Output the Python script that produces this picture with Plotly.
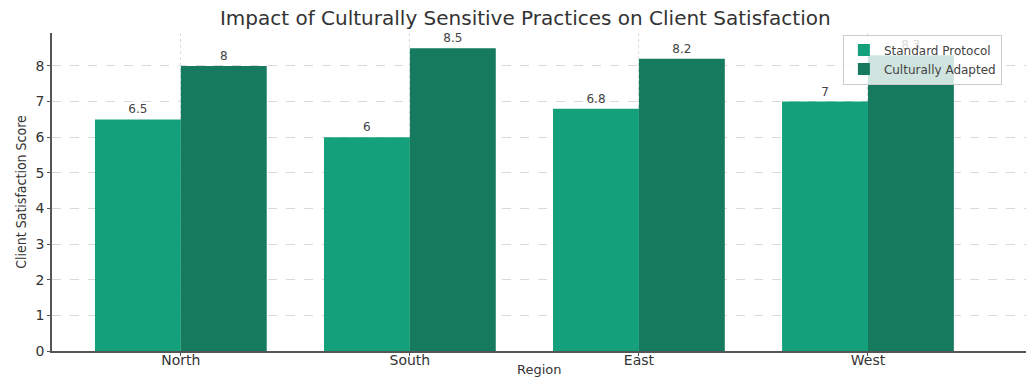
import plotly.graph_objects as go

regions = ["North", "South", "East", "West"]
standard = [6.5, 6.0, 6.8, 7.0]
adapted = [8.0, 8.5, 8.2, 8.3]
standard_labels = ["6.5", "6", "6.8", "7"]
adapted_labels = ["8", "8.5", "8.2", "8.3"]

light = "#13a07b"
dark = "#167a5f"
font = "DejaVu Sans"

fig = go.Figure()
fig.add_trace(go.Bar(x=regions, y=standard, name="Standard Protocol", marker=dict(color=light, line=dict(width=0)),
                     text=standard_labels, textposition="outside", textfont=dict(size=12, color="#444", family=font),
                     cliponaxis=False))
fig.add_trace(go.Bar(x=regions, y=adapted, name="Culturally Adapted", marker=dict(color=dark, line=dict(width=0)),
                     text=adapted_labels, textposition="outside", textfont=dict(size=12, color="#444", family=font),
                     cliponaxis=False))

fig.update_layout(
    width=1026, height=377,
    margin=dict(l=52, r=0, t=33, b=26, autoexpand=False),
    paper_bgcolor="white", plot_bgcolor="white",
    barmode="group", bargap=0.25, bargroupgap=0,
    title=dict(text="Impact of Culturally Sensitive Practices on Client Satisfaction",
               x=0.512, xanchor="center", y=0.952, yanchor="middle",
               font=dict(family=font, size=20, color="#333")),
    font=dict(family=font, color="#333"),
    legend=dict(x=0.812, y=0.995, xanchor="left", yanchor="top",
                bgcolor="rgba(255,255,255,0.8)", bordercolor="#cccccc", borderwidth=1,
                font=dict(size=12, color="#444", family=font), tracegroupgap=0,
                itemsizing="constant", itemwidth=30),
    showlegend=True,
    annotations=[dict(text="Region", xref="paper", yref="paper", x=0.5, y=-0.058,
                      xanchor="center", yanchor="middle", showarrow=False,
                      font=dict(size=13, color="#333", family=font))],
)
fig.update_xaxes(
    range=[-0.5625, 3.69], showline=True, linecolor="#555", linewidth=1.5,
    showgrid=True, gridcolor="#dddddd", griddash="dot", gridwidth=1,
    ticks="outside", ticklen=3, tickcolor="#555", automargin=False,
    ticklabelstandoff=-8,
    tickfont=dict(size=14, color="#333", family=font),
)
fig.update_yaxes(
    range=[0, 8.925], showline=True, linecolor="#555", linewidth=1.5,
    showgrid=True, gridcolor="#d9d9d9", griddash="dash", gridwidth=1,
    tickvals=[0, 1, 2, 3, 4, 5, 6, 7, 8],
    ticks="outside", ticklen=3, tickcolor="#555", automargin=False,
    tickfont=dict(size=14, color="#333", family=font),
    title=dict(text="Client Satisfaction Score", font=dict(size=14, color="#333", family="DejaVu Sans Condensed"), standoff=6),
    zeroline=False,
)

fig.write_html("out.html")
